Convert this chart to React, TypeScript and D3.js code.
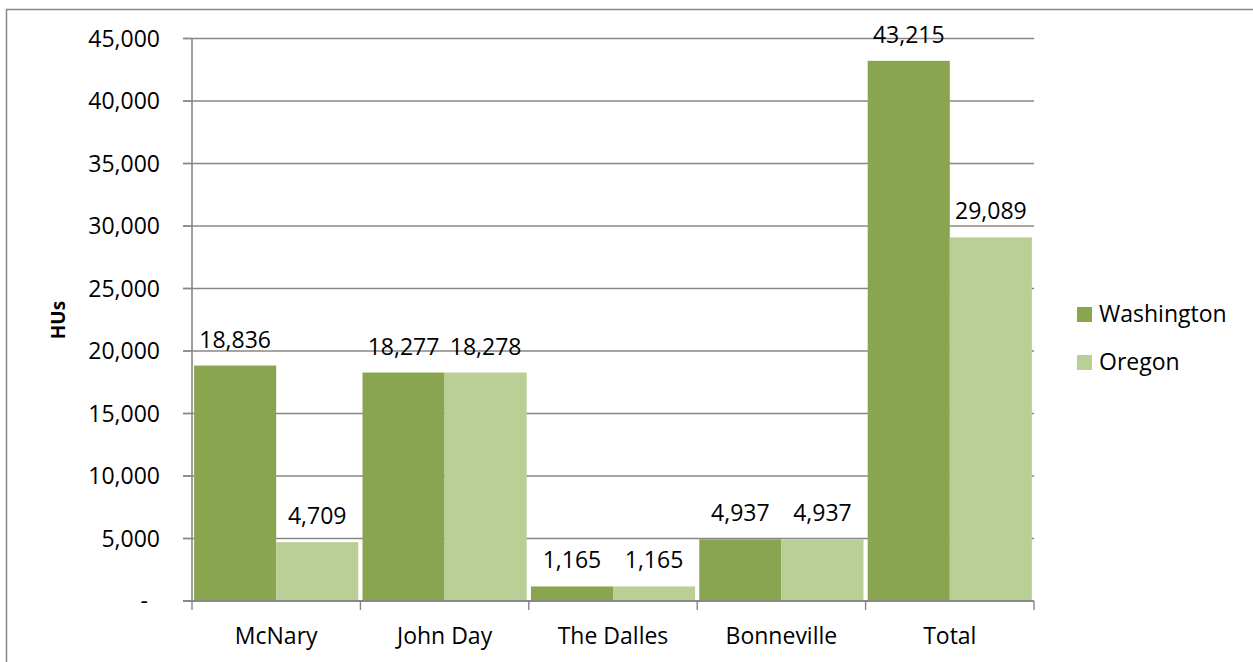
import React from "react";
import * as d3 from "d3";

const categories = ["McNary", "John Day", "The Dalles", "Bonneville", "Total"];
const seriesNames = ["Washington", "Oregon"];
const washington = [18836, 18277, 1165, 4937, 43215];
const oregon = [4709, 18278, 1165, 4937, 29089];
const yTicks = [0, 5000, 10000, 15000, 20000, 25000, 30000, 35000, 40000, 45000];
const colors = ["#8AA54F", "#B9CF96"];

const W = 1253;
const H = 662;
const left = 192;
const right = 1034;
const top = 38.5;
const bottom = 601;
const FONT = "'Open Sans', sans-serif";
const GRID = "#878787";

export default function App() {
  const x = d3.scaleBand<string>().domain(categories).range([left, right]).paddingInner(0.025).paddingOuter(0.0125);
  const xs = d3.scaleBand<string>().domain(seriesNames).range([0, x.bandwidth()]).padding(0);
  const y = d3.scaleLinear().domain([0, 45000]).range([bottom, top]);
  const fmt = d3.format(",");
  const series = [washington, oregon];
  const step = (right - left) / categories.length;

  return (
    <svg width={W} height={H} style={{ position: "absolute", left: 0, top: 0, background: "#fff" }} fontFamily={FONT}>
      <rect x={6.5} y={9.5} width={1300} height={700} fill="#fff" stroke="#868686" strokeWidth={1.5} />
      {/* gridlines */}
      {yTicks.filter((t) => t > 0).map((t) => (
        <line key={t} x1={183} x2={right} y1={y(t)} y2={y(t)} stroke={GRID} strokeWidth={1.4} />
      ))}
      {/* bars */}
      {categories.map((c, i) =>
        series.map((s, j) => (
          <rect
            key={c + j}
            x={(x(c) as number) + (xs(seriesNames[j]) as number)}
            y={y(s[i])}
            width={xs.bandwidth()}
            height={bottom - y(s[i])}
            fill={colors[j]}
          />
        ))
      )}
      {/* y axis */}
      <line x1={left} x2={left} y1={top} y2={bottom} stroke={GRID} strokeWidth={1.6} />
      {yTicks.map((t) => (
        <g key={"yt" + t}>
          <line x1={183} x2={left} y1={y(t)} y2={y(t)} stroke={GRID} strokeWidth={1.4} />
          <text x={t === 0 ? 148 : 160} y={y(t) + 8} textAnchor="end" fontSize={23} fill="#000">
            {t === 0 ? "-" : fmt(t)}
          </text>
        </g>
      ))}
      {/* x axis */}
      <line x1={183} x2={right} y1={bottom} y2={bottom} stroke={GRID} strokeWidth={1.8} />
      {d3.range(categories.length + 1).map((k) => (
        <line key={"xt" + k} x1={left + k * step} x2={left + k * step} y1={bottom} y2={bottom + 9} stroke={GRID} strokeWidth={1.4} />
      ))}
      {categories.map((c) => (
        <text key={"xl" + c} x={(x(c) as number) + x.bandwidth() / 2} y={bottom + 43} textAnchor="middle" fontSize={23} fill="#000">
          {c}
        </text>
      ))}
      {/* data labels */}
      {categories.map((c, i) =>
        series.map((s, j) => (
          <text
            key={"dl" + c + j}
            x={(x(c) as number) + (xs(seriesNames[j]) as number) + xs.bandwidth() / 2}
            y={y(s[i]) - 18}
            textAnchor="middle"
            fontSize={23}
            fill="#000"
          >
            {fmt(s[i])}
          </text>
        ))
      )}
      {/* y title */}
      <text transform={`translate(65,320) rotate(-90)`} textAnchor="middle" fontSize={19} fontWeight="bold" fill="#000">
        HUs
      </text>
      {/* legend */}
      {seriesNames.map((n, j) => (
        <g key={"lg" + n}>
          <rect x={1077} y={307 + j * 48} width={15} height={15} fill={colors[j]} />
          <text x={1099} y={322 + j * 48} fontSize={23} fill="#000">
            {n}
          </text>
        </g>
      ))}
    </svg>
  );
}
